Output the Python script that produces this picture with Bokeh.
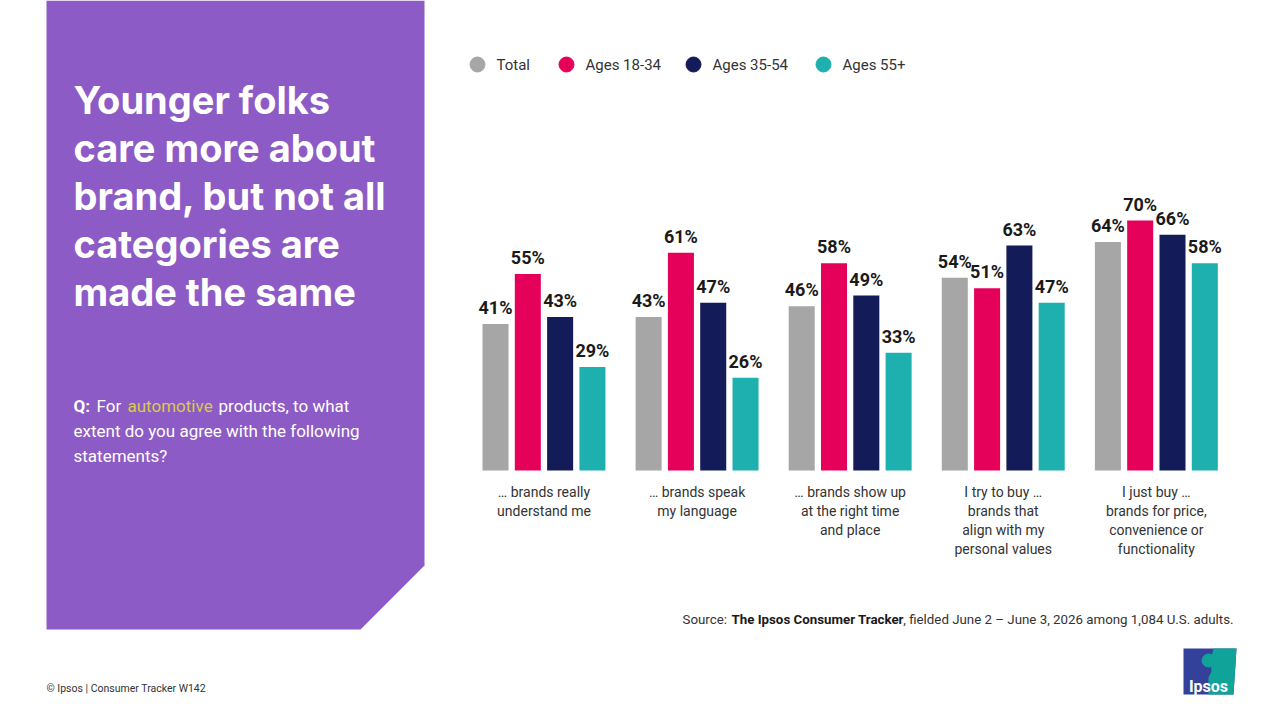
from bokeh.plotting import figure
from bokeh.models import Range1d, ColumnDataSource
from bokeh.transform import dodge
from bokeh.core.properties import value
from bokeh.embed import file_html
from bokeh.resources import INLINE

# ---------------- data ----------------
categories = [
    "… brands really\nunderstand me",
    "… brands speak\nmy language",
    "… brands show up\nat the right time\nand place",
    "I try to buy …\nbrands that\nalign with my\npersonal values",
    "I just buy …\nbrands for price,\nconvenience or\nfunctionality",
]
series_names = ["Total", "Ages 18-34", "Ages 35-54", "Ages 55+"]
total = [41, 43, 46, 54, 64]
ages_18_34 = [55, 61, 58, 51, 70]
ages_35_54 = [43, 47, 49, 63, 66]
ages_55_plus = [29, 26, 33, 47, 58]
series_values = [total, ages_18_34, ages_35_54, ages_55_plus]
series_colors = ["#A6A6A6", "#E5005A", "#131B58", "#1EB0AE"]

title_lines = ["Younger folks", "care more about", "brand, but not all",
               "categories are", "made the same"]

# ---------------- figure ----------------
p = figure(width=1280, height=720, x_range=Range1d(0, 1280), y_range=Range1d(720, 0),
           output_backend="svg", toolbar_location=None, min_border=0,
           x_axis_type=None, y_axis_type=None, outline_line_color=None,
           background_fill_color="white", border_fill_color="white")
p.grid.visible = False

# chart ranges (category index / percent)
p.extra_x_ranges = {"bx": Range1d(-3.550, 4.811)}
p.extra_y_ranges = {"by": Range1d(-70, 131.6)}

# ---------------- left panel ----------------
p.patch(x=[46, 424, 424, 360, 46], y=[0, 0, 565, 629, 629], fill_color="#8D5BC5",
        line_color=None)
p.text(x=[73] * len(title_lines), y=[99, 147, 195, 243, 291], text=title_lines,
       text_font=value("Inter"), text_font_style="bold", text_font_size="38px",
       text_color="white", text_baseline="middle")

qfont = value("Roboto")
qy = [405, 430, 455]
p.text(x=[73], y=[qy[0]], text=["Q:"], text_font=qfont, text_font_style="bold",
       text_font_size="17px", text_color="white", text_baseline="middle")
p.text(x=[96], y=[qy[0]], text=["For"], text_font=qfont, text_font_size="17px",
       text_color="white", text_baseline="middle")
p.text(x=[127], y=[qy[0]], text=["automotive"], text_font=qfont, text_font_size="17px",
       text_color="#D8CB4E", text_baseline="middle")
p.text(x=[218], y=[qy[0]], text=["products, to what"], text_font=qfont,
       text_font_size="17px", text_color="white", text_baseline="middle")
p.text(x=[73, 73], y=qy[1:], text=["extent do you agree with the following", "statements?"],
       text_font=qfont, text_font_size="17px", text_color="white",
       text_baseline="middle")

# ---------------- legend ----------------
leg_x = [477, 566, 693, 823]
p.scatter(x=leg_x, y=[64] * 4, size=15, color=series_colors, marker="circle")
p.text(x=[x + 19 for x in leg_x], y=[64] * 4, text=series_names, text_font=value("Roboto"),
       text_font_size="15px", text_color="#333333", text_baseline="middle")

# ---------------- bars ----------------
src = ColumnDataSource(dict(
    idx=list(range(len(categories))),
    cat=categories,
    **{f"s{j}": vals for j, vals in enumerate(series_values)},
    **{f"l{j}": [f"{v}%" for v in vals] for j, vals in enumerate(series_values)},
))
step = 0.211
for j in range(4):
    off = (j - 1.5) * step
    p.vbar(x=dodge("idx", off), top=f"s{j}", bottom=0, width=0.170, source=src,
           fill_color=series_colors[j], line_color=None,
           x_range_name="bx", y_range_name="by")
    p.text(x=dodge("idx", off), y=f"s{j}", text=f"l{j}", source=src,
           x_range_name="bx", y_range_name="by", text_align="center",
           text_baseline="bottom", y_offset=-6, text_font=value("Roboto"),
           text_font_style="bold", text_font_size="18px", text_color="#1A1A1A")

# category labels
p.text(x="idx", y=483, text="cat", source=src, x_range_name="bx",
       text_align="center", text_baseline="top", text_font=value("Roboto"),
       text_font_size="14px", text_line_height=1.19, text_color="#333333")

# ---------------- source / footer ----------------
sfont = value("Roboto")
p.text(x=[682], y=[619], text=["Source:"], text_font=sfont, text_font_size="13.3px",
       text_color="#333333", text_baseline="middle")
p.text(x=[731], y=[619], text=["The Ipsos Consumer Tracker"], text_font=sfont,
       text_font_style="bold", text_font_size="13.3px", text_color="#1A1A1A",
       text_baseline="middle")
p.text(x=[1233], y=[619], text=[", fielded June 2 – June 3, 2026 among 1,084 U.S. adults."],
       text_font=sfont, text_font_size="13.3px", text_color="#333333",
       text_baseline="middle", text_align="right")
p.text(x=[46], y=[688], text=["© Ipsos | Consumer Tracker W142"], text_font=sfont,
       text_font_size="10.5px", text_color="#333333", text_baseline="middle")

# ---------------- logo ----------------
p.patch(x=[1183, 1236, 1233, 1183], y=[648, 648, 694, 694], fill_color="#33419B",
        line_color=None)
p.patch(x=[1213, 1236, 1233, 1208, 1208, 1211, 1210, 1213],
        y=[648, 648, 694, 694, 677, 671, 660, 648], fill_color="#0FA39A", line_color=None)
p.scatter(x=[1208], y=[660], size=13, color="#0FA39A", marker="circle")
p.text(x=[1208], y=[686], text=["Ipsos"], text_font=value("Roboto"), text_font_style="bold",
       text_font_size="16px", text_color="white", text_align="center",
       text_baseline="middle")

open("out.html", "w").write(file_html(p, INLINE))
